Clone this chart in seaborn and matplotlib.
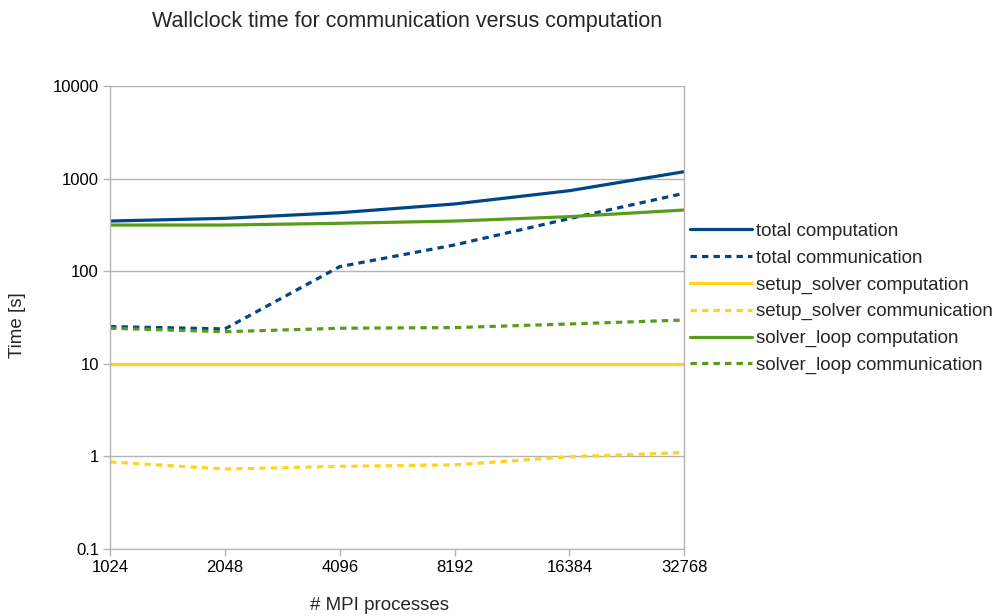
import numpy as np
import pandas as pd
import matplotlib
matplotlib.use('Agg')
import matplotlib.pyplot as plt
import seaborn as sns

# 数据
procs = ['1024', '2048', '4096', '8192', '16384', '32768']
total_comp = [348, 372, 428, 532, 740, 1188]
total_comm = [25.2, 23.8, 112, 192, 370, 694]
setup_comp = [10, 10, 10, 10, 10, 10]
setup_comm = [0.87, 0.73, 0.78, 0.81, 0.99, 1.10]
loop_comp = [315, 315, 329, 348, 388, 458]
loop_comm = [24.2, 22.2, 24.2, 24.6, 26.9, 29.7]

series_names = ['total computation', 'total communication',
                'setup_solver computation', 'setup_solver communication',
                'solver_loop computation', 'solver_loop communication']
series_values = [total_comp, total_comm, setup_comp, setup_comm, loop_comp, loop_comm]

blue = '#004586'
yellow = '#ffd320'
green = '#579d1c'
colors = [blue, blue, yellow, yellow, green, green]
dashed = [False, True, False, True, False, True]

sns.set_style('white')
plt.rcParams['font.family'] = ['Liberation Sans', 'DejaVu Sans']

fig = plt.figure(figsize=(10.03, 6.16), dpi=100)
ax = fig.add_axes([0.1097, 0.1088, 0.5725, 0.7516])

for name, vals, c, d in zip(series_names, series_values, colors, dashed):
    df = pd.DataFrame({'x': np.arange(len(procs)), 'y': vals})
    sns.lineplot(data=df, x='x', y='y', ax=ax, color=c, lw=2.3, label=name,
                 linestyle=(0, (2, 1.6)) if d else '-')

ax.set_yscale('log')
ax.set_ylim(0.1, 10000)
ax.set_xlim(0, len(procs) - 1)
ax.set_xticks(np.arange(len(procs)))
ax.set_xticklabels(procs)
ax.set_yticks([0.1, 1, 10, 100, 1000, 10000])
ax.set_yticklabels(['0.1', '1', '10', '100', '1000', '10000'])
ax.minorticks_off()
ax.yaxis.grid(True, color='#b3b3b3', lw=1)
ax.tick_params(axis='both', labelsize=12, colors='#b3b3b3', labelcolor='black',
               length=5, width=1, direction='out', left=True, bottom=True, pad=3)
for s in ['left', 'right']:
    ax.spines[s].set_color('#b3b3b3')
    ax.spines[s].set_linewidth(1)
ax.spines['top'].set_visible(False)
ax.spines['bottom'].set_color('#b3b3b3')
ax.set_xlabel('')
ax.set_ylabel('')

# 标题和轴标签
fig.text(0.378, 1 - 605 / 616, '# MPI processes', ha='center', va='center', fontsize=13.5)
fig.text(18 / 1003, 1 - 325 / 616, 'Time [s]', ha='center', va='center',
         rotation=90, fontsize=13.5)
fig.text(407 / 1003, 1 - 22 / 616, 'Wallclock time for communication versus computation',
         ha='center', va='center', fontsize=15.5)

leg = ax.legend(loc='center left', bbox_to_anchor=(1.0105, 0.541), frameon=False,
                fontsize=13.5, handlelength=3.3, handletextpad=0.18, labelspacing=0.51,
                borderaxespad=0, borderpad=0)

fig.savefig('out.png', dpi=100)
